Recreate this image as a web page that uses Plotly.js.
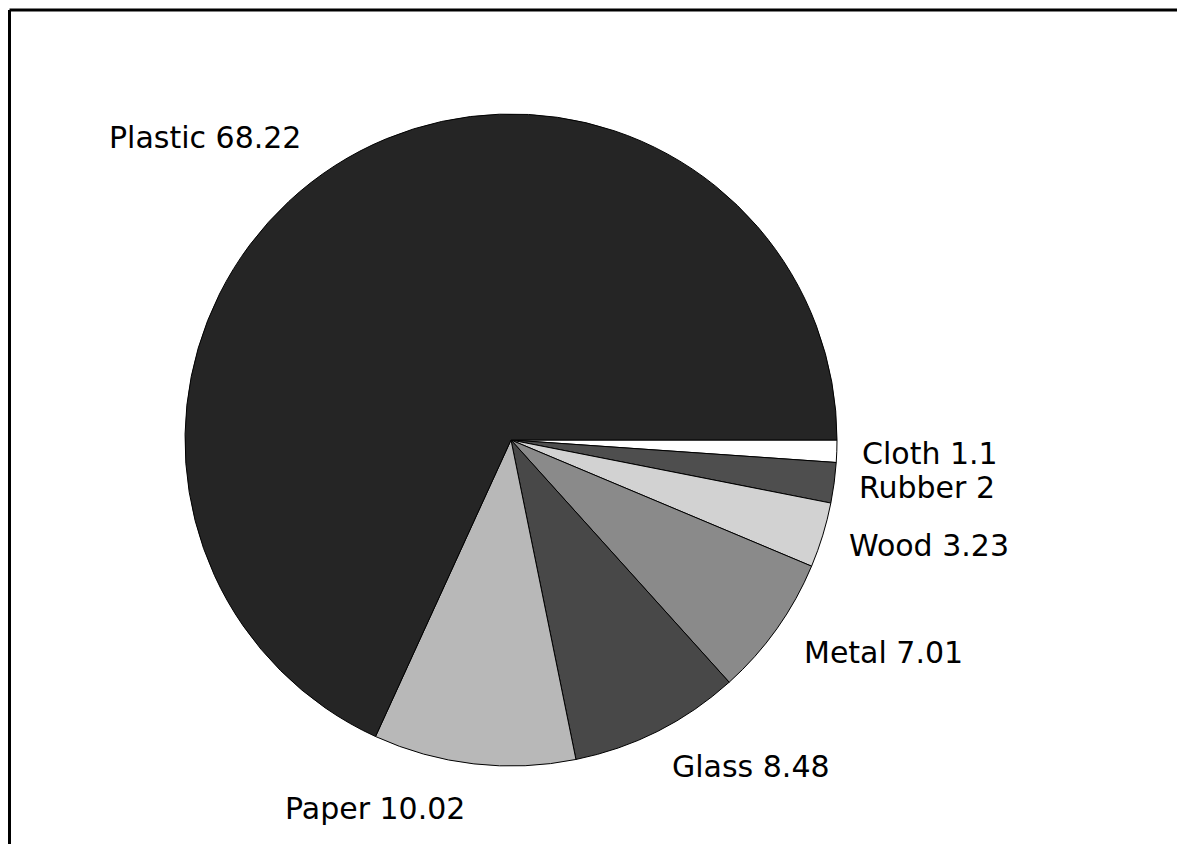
<!DOCTYPE html>
<html>
<head>
<meta charset="utf-8">
<script src="https://cdn.plot.ly/plotly-3.0.1.min.js"></script>
<style>
  html, body { margin: 0; padding: 0; background: #ffffff; }
  #chart { width: 1177px; height: 844px; }
</style>
</head>
<body>
<div id="chart"></div>
<script>
// Data (clockwise from 3 o'clock)
var categories = ["Cloth", "Rubber", "Wood", "Metal", "Glass", "Paper", "Plastic"];
var values = [1.1, 2, 3.23, 7.01, 8.48, 10.02, 68.22];
var valueLabels = ["1.1", "2", "3.23", "7.01", "8.48", "10.02", "68.22"];

// Styles
var sliceColors = ["#ffffff", "#4e4e4e", "#d2d2d2", "#8a8a8a", "#484848", "#b8b8b8", "#252525"];
// Label anchor positions in pixels (left edge, vertical middle)
var labelPos = {
  Cloth:   [860, 453],
  Rubber:  [857, 487],
  Wood:    [847, 545],
  Metal:   [802, 652],
  Glass:   [670, 766],
  Paper:   [283, 808],
  Plastic: [107, 137]
};

var W = 1177, H = 844;
var cx = 511, cy = 440, r = 326;

var trace = {
  type: "pie",
  labels: categories,
  values: values,
  sort: false,
  direction: "clockwise",
  rotation: 90,
  textinfo: "none",
  hoverinfo: "none",
  showlegend: false,
  marker: { colors: sliceColors, line: { color: "#000000", width: 1 } },
  domain: {
    x: [(cx - r) / W, (cx + r) / W],
    y: [(H - cy - r) / H, (H - cy + r) / H]
  }
};

var annotations = categories.map(function (c, i) {
  var p = labelPos[c];
  return {
    xref: "paper", yref: "paper",
    x: p[0] / W, y: 1 - p[1] / H,
    xanchor: "left", yanchor: "middle",
    text: c + " " + valueLabels[i],
    showarrow: false,
    font: { family: "DejaVu Sans", size: 30, color: "#000000" }
  };
});

var layout = {
  width: W, height: H,
  margin: { l: 0, r: 0, t: 0, b: 0 },
  paper_bgcolor: "#ffffff",
  plot_bgcolor: "#ffffff",
  annotations: annotations,
  shapes: [
    { type: "line", xref: "paper", yref: "paper", x0: 9.5 / W, x1: 1, y0: 1 - 10 / H, y1: 1 - 10 / H,
      line: { color: "#000000", width: 3 } },
    { type: "line", xref: "paper", yref: "paper", x0: 9.5 / W, x1: 9.5 / W, y0: 1 - 10 / H, y1: 0,
      line: { color: "#000000", width: 3 } }
  ]
};

Plotly.newPlot("chart", [trace], layout, { displayModeBar: false, staticPlot: true });
</script>
</body>
</html>
